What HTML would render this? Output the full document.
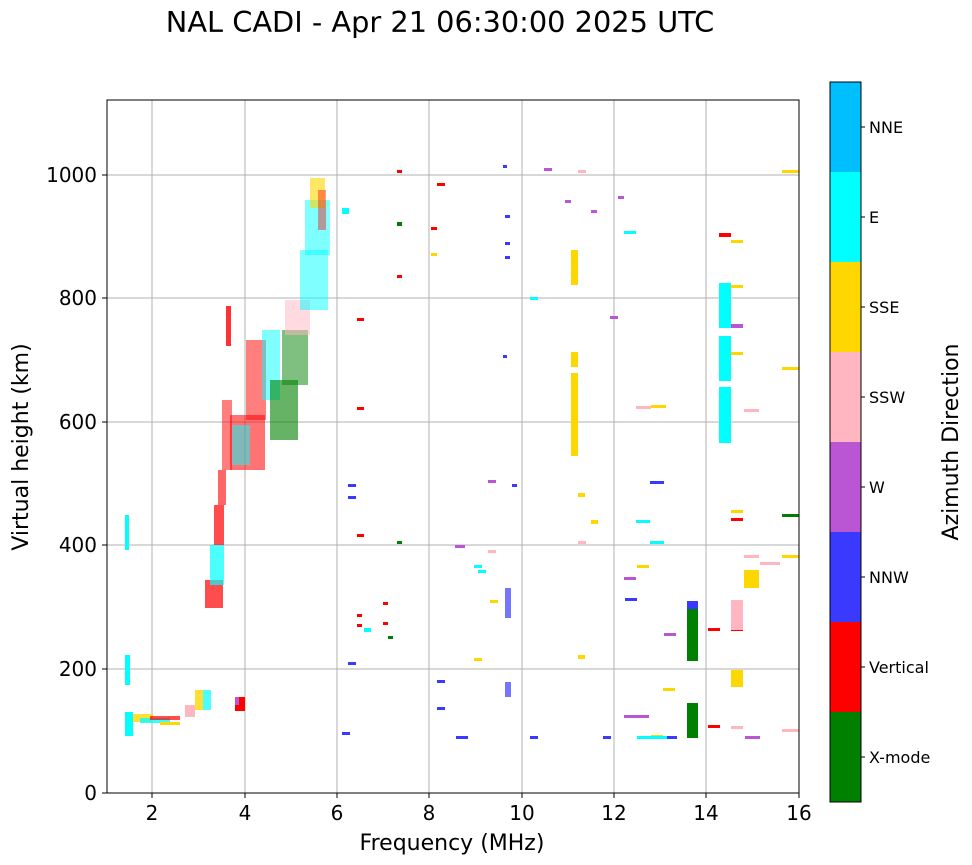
<!DOCTYPE html>
<html><head><style>
body{margin:0;background:#fff;}
svg{display:block;font-family:"DejaVu Sans","Liberation Sans",sans-serif;}
</style></head><body>
<svg width="972" height="865" viewBox="0 0 972 865" xmlns="http://www.w3.org/2000/svg">
<rect width="972" height="865" fill="#fff"/>
<text x="440" y="32" font-size="28.8" text-anchor="middle">NAL CADI - Apr 21 06:30:00 2025 UTC</text>
<g stroke="#b0b0b0" stroke-width="1">
<line x1="152" y1="100" x2="152" y2="793"/><line x1="245" y1="100" x2="245" y2="793"/>
<line x1="337" y1="100" x2="337" y2="793"/><line x1="429" y1="100" x2="429" y2="793"/>
<line x1="522" y1="100" x2="522" y2="793"/><line x1="614" y1="100" x2="614" y2="793"/>
<line x1="706" y1="100" x2="706" y2="793"/>
<line x1="107" y1="669" x2="799" y2="669"/><line x1="107" y1="545" x2="799" y2="545"/>
<line x1="107" y1="422" x2="799" y2="422"/><line x1="107" y1="298" x2="799" y2="298"/>
<line x1="107" y1="175" x2="799" y2="175"/>
</g>
<g>
<rect x="125" y="712" width="8" height="24" fill="#00ffff"/>
<rect x="133" y="714" width="20" height="8" fill="#ffd700" opacity="0.8"/>
<rect x="140" y="718" width="30" height="5" fill="#00ffff" opacity="0.8"/>
<rect x="150" y="716" width="30" height="4" fill="#ff0000" opacity="0.7"/>
<rect x="160" y="722" width="20" height="3" fill="#ffd700"/>
<rect x="185" y="705" width="10" height="12" fill="#ffb6c1"/>
<rect x="195" y="690" width="8" height="20" fill="#ffd700" opacity="0.8"/>
<rect x="203" y="690" width="8" height="20" fill="#00ffff" opacity="0.7"/>
<rect x="125" y="655" width="5" height="30" fill="#00ffff"/>
<rect x="125" y="515" width="4" height="35" fill="#00ffff"/>
<rect x="235" y="697" width="10" height="14" fill="#ff0000"/>
<rect x="235" y="697" width="4" height="8" fill="#ba55d3"/>
<rect x="205" y="580" width="18" height="28" fill="#ff0000" opacity="0.7"/>
<rect x="210" y="545" width="14" height="40" fill="#00ffff" opacity="0.7"/>
<rect x="214" y="505" width="10" height="40" fill="#ff0000" opacity="0.7"/>
<rect x="218" y="470" width="8" height="35" fill="#ff0000" opacity="0.6"/>
<rect x="222" y="400" width="10" height="70" fill="#ff0000" opacity="0.5"/>
<rect x="226" y="306" width="5" height="40" fill="#ff0000" opacity="0.8"/>
<rect x="230" y="415" width="35" height="55" fill="#ff0000" opacity="0.55"/>
<rect x="232" y="425" width="18" height="40" fill="#00ffff" opacity="0.5"/>
<rect x="246" y="340" width="20" height="80" fill="#ff0000" opacity="0.5"/>
<rect x="262" y="330" width="18" height="70" fill="#00ffff" opacity="0.5"/>
<rect x="270" y="380" width="28" height="60" fill="#008000" opacity="0.6"/>
<rect x="282" y="330" width="26" height="55" fill="#008000" opacity="0.5"/>
<rect x="285" y="300" width="25" height="35" fill="#ffb6c1" opacity="0.5"/>
<rect x="300" y="250" width="28" height="60" fill="#00ffff" opacity="0.5"/>
<rect x="305" y="200" width="25" height="55" fill="#00ffff" opacity="0.5"/>
<rect x="310" y="178" width="15" height="30" fill="#ffd700" opacity="0.6"/>
<rect x="318" y="190" width="8" height="40" fill="#ff0000" opacity="0.4"/>
<g fill="#ff0000">
<rect x="357" y="318" width="7" height="3"/><rect x="357" y="407" width="7" height="3"/>
<rect x="357" y="534" width="7" height="3"/><rect x="357" y="614" width="5" height="3"/>
<rect x="357" y="624" width="5" height="3"/><rect x="383" y="602" width="5" height="3"/>
<rect x="383" y="622" width="5" height="3"/><rect x="397" y="170" width="5" height="3"/>
<rect x="397" y="275" width="5" height="3"/><rect x="437" y="183" width="8" height="3"/>
<rect x="431" y="227" width="6" height="3"/><rect x="719" y="233" width="12" height="4"/>
<rect x="708" y="628" width="12" height="3"/><rect x="708" y="725" width="12" height="3"/>
<rect x="731" y="518" width="12" height="3"/><rect x="731" y="628" width="12" height="3"/>
</g>
<g fill="#3a3aff">
<rect x="348" y="484" width="8" height="3"/><rect x="348" y="496" width="8" height="3"/>
<rect x="456" y="736" width="12" height="3"/><rect x="530" y="736" width="8" height="3"/>
<rect x="603" y="736" width="8" height="3"/><rect x="665" y="736" width="12" height="3"/>
<rect x="650" y="481" width="14" height="3"/><rect x="625" y="598" width="12" height="3"/>
<rect x="503" y="165" width="4" height="3"/><rect x="505" y="215" width="5" height="3"/>
<rect x="505" y="242" width="5" height="3"/><rect x="505" y="256" width="5" height="3"/>
<rect x="503" y="355" width="4" height="3"/><rect x="512" y="484" width="5" height="3"/>
<rect x="505" y="588" width="6" height="30" opacity="0.7"/><rect x="505" y="682" width="6" height="15" opacity="0.7"/>
<rect x="437" y="680" width="8" height="3"/><rect x="437" y="707" width="8" height="3"/>
<rect x="348" y="662" width="8" height="3"/><rect x="342" y="732" width="8" height="3"/>
</g>
<g fill="#ffd700">
<rect x="571" y="373" width="7" height="83"/><rect x="571" y="250" width="7" height="35"/>
<rect x="571" y="352" width="7" height="15"/><rect x="578" y="493" width="7" height="4"/>
<rect x="591" y="520" width="7" height="4"/><rect x="578" y="655" width="7" height="4"/>
<rect x="490" y="600" width="8" height="3"/><rect x="474" y="658" width="8" height="3"/>
<rect x="431" y="253" width="6" height="3"/><rect x="744" y="570" width="15" height="18"/>
<rect x="731" y="670" width="12" height="17"/><rect x="731" y="240" width="12" height="3"/>
<rect x="731" y="285" width="12" height="3"/><rect x="731" y="352" width="12" height="3"/>
<rect x="731" y="510" width="12" height="3"/><rect x="651" y="405" width="15" height="3"/>
<rect x="663" y="688" width="12" height="3"/><rect x="651" y="735" width="12" height="3"/>
<rect x="782" y="170" width="17" height="3"/><rect x="782" y="367" width="17" height="3"/>
<rect x="782" y="555" width="17" height="3"/><rect x="637" y="565" width="12" height="3"/>
</g>
<g fill="#00ffff">
<rect x="342" y="208" width="7" height="6"/><rect x="719" y="283" width="12" height="45"/>
<rect x="719" y="336" width="12" height="45"/><rect x="719" y="387" width="12" height="56"/>
<rect x="636" y="520" width="14" height="3"/><rect x="624" y="231" width="12" height="3"/>
<rect x="637" y="736" width="30" height="3"/><rect x="474" y="565" width="8" height="3"/>
<rect x="478" y="570" width="8" height="3"/><rect x="530" y="297" width="8" height="3"/>
<rect x="364" y="628" width="7" height="4"/><rect x="650" y="541" width="14" height="3"/>
</g>
<g fill="#ba55d3">
<rect x="731" y="324" width="12" height="4"/><rect x="624" y="715" width="25" height="3"/>
<rect x="745" y="736" width="15" height="3"/><rect x="544" y="168" width="8" height="3"/>
<rect x="565" y="200" width="6" height="3"/><rect x="591" y="210" width="6" height="3"/>
<rect x="618" y="196" width="6" height="3"/><rect x="610" y="316" width="8" height="3"/>
<rect x="664" y="633" width="12" height="3"/><rect x="624" y="577" width="12" height="3"/>
<rect x="488" y="480" width="8" height="3"/><rect x="455" y="545" width="10" height="3"/>
</g>
<g fill="#ffb6c1">
<rect x="731" y="600" width="12" height="30"/><rect x="636" y="406" width="15" height="3"/>
<rect x="578" y="170" width="8" height="3"/><rect x="744" y="555" width="15" height="3"/>
<rect x="760" y="562" width="20" height="3"/><rect x="782" y="729" width="17" height="3"/>
<rect x="578" y="541" width="8" height="3"/><rect x="488" y="550" width="8" height="3"/>
<rect x="744" y="409" width="15" height="3"/><rect x="731" y="726" width="12" height="3"/>
</g>
<g fill="#008000">
<rect x="687" y="601" width="11" height="60"/><rect x="687" y="703" width="11" height="35"/>
<rect x="782" y="514" width="17" height="3"/><rect x="397" y="222" width="5" height="4"/>
<rect x="397" y="541" width="5" height="3"/><rect x="388" y="636" width="5" height="3"/>
</g>
<rect x="687" y="601" width="11" height="8" fill="#3a3aff"/>
</g>
<rect x="107" y="100" width="692" height="693" fill="none" stroke="#000" stroke-width="1"/>
<g stroke="#000">
<line x1="152" y1="793" x2="152" y2="798"/><line x1="245" y1="793" x2="245" y2="798"/>
<line x1="337" y1="793" x2="337" y2="798"/><line x1="429" y1="793" x2="429" y2="798"/>
<line x1="522" y1="793" x2="522" y2="798"/><line x1="614" y1="793" x2="614" y2="798"/>
<line x1="706" y1="793" x2="706" y2="798"/><line x1="799" y1="793" x2="799" y2="798"/>
<line x1="102" y1="793" x2="107" y2="793"/><line x1="102" y1="669" x2="107" y2="669"/>
<line x1="102" y1="545" x2="107" y2="545"/><line x1="102" y1="422" x2="107" y2="422"/>
<line x1="102" y1="298" x2="107" y2="298"/><line x1="102" y1="175" x2="107" y2="175"/>
</g>
<g font-size="20" text-anchor="middle">
<text x="152" y="820">2</text><text x="245" y="820">4</text><text x="337" y="820">6</text>
<text x="429" y="820">8</text><text x="522" y="820">10</text><text x="614" y="820">12</text>
<text x="706" y="820">14</text><text x="799" y="820">16</text>
</g>
<g font-size="20" text-anchor="end">
<text x="97" y="800">0</text><text x="97" y="676">200</text><text x="97" y="552">400</text>
<text x="97" y="429">600</text><text x="97" y="305">800</text><text x="97" y="182">1000</text>
</g>
<text x="452" y="850" font-size="22" text-anchor="middle">Frequency (MHz)</text>
<text x="28" y="447" font-size="22" text-anchor="middle" transform="rotate(-90 28 447)">Virtual height (km)</text>
<rect x="830" y="82" width="31" height="90" fill="#00bfff"/>
<rect x="830" y="172" width="31" height="90" fill="#00ffff"/>
<rect x="830" y="262" width="31" height="90" fill="#ffd700"/>
<rect x="830" y="352" width="31" height="90" fill="#ffb6c1"/>
<rect x="830" y="442" width="31" height="90" fill="#ba55d3"/>
<rect x="830" y="532" width="31" height="90" fill="#3a3aff"/>
<rect x="830" y="622" width="31" height="90" fill="#ff0000"/>
<rect x="830" y="712" width="31" height="90" fill="#008000"/>
<rect x="830" y="82" width="31" height="720" fill="none" stroke="#000"/>
<g stroke="#000">
<line x1="861" y1="127" x2="865" y2="127"/><line x1="861" y1="217" x2="865" y2="217"/>
<line x1="861" y1="307" x2="865" y2="307"/><line x1="861" y1="397" x2="865" y2="397"/>
<line x1="861" y1="487" x2="865" y2="487"/><line x1="861" y1="577" x2="865" y2="577"/>
<line x1="861" y1="667" x2="865" y2="667"/><line x1="861" y1="757" x2="865" y2="757"/>
</g>
<g font-size="16">
<text x="869" y="133">NNE</text><text x="869" y="223">E</text><text x="869" y="313">SSE</text>
<text x="869" y="403">SSW</text><text x="869" y="493">W</text><text x="869" y="583">NNW</text>
<text x="869" y="673">Vertical</text><text x="869" y="763">X-mode</text>
</g>
<text x="958" y="442" font-size="22" text-anchor="middle" transform="rotate(-90 958 442)">Azimuth Direction</text>
</svg>
</body></html>
